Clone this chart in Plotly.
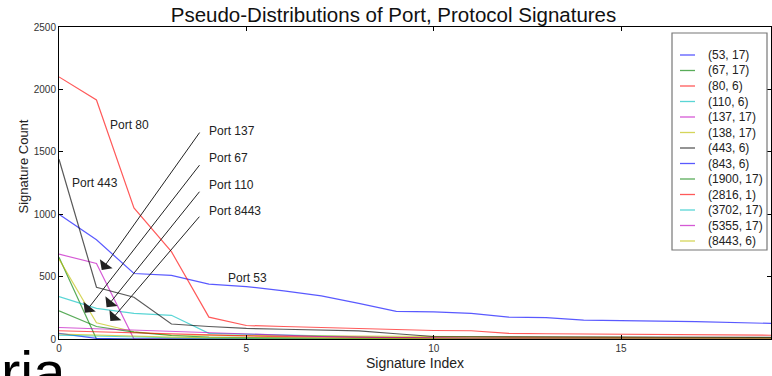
import plotly.graph_objects as go

# ---- data -------------------------------------------------------------
signature_index = list(range(20))

port_protocols = [
    "(53, 17)", "(67, 17)", "(80, 6)", "(110, 6)", "(137, 17)", "(138, 17)",
    "(443, 6)", "(843, 6)", "(1900, 17)", "(2816, 1)", "(3702, 17)",
    "(5355, 17)", "(8443, 6)",
]

counts_53_17 = [1000, 795, 525, 510, 440, 420, 385, 345, 285, 222,
                218, 205, 175, 172, 152, 150, 144, 139, 133, 125]
counts_67_17 = [655, 0, 0, 0, 0, 0, 0, 0, 0, 0,
                0, 0, 0, 0, 0, 0, 0, 0, 0, 0]
counts_80_6 = [2100, 1915, 1050, 700, 175, 108, 100, 92, 82, 74,
               68, 66, 45, 42, 40, 38, 36, 34, 32, 30]
counts_110_6 = [340, 245, 205, 190, 45, 40, 32, 25, 18, 10,
                8, 6, 5, 4, 4, 3, 3, 3, 2, 2]
counts_137_17 = [680, 605, 0, 0, 0, 0, 0, 0, 0, 0,
                 0, 0, 0, 0, 0, 0, 0, 0, 0, 0]
counts_138_17 = [640, 130, 58, 32, 30, 28, 26, 24, 22, 20,
                 18, 17, 16, 15, 14, 13, 12, 12, 11, 11]
counts_443_6 = [1440, 415, 335, 120, 100, 85, 78, 72, 65, 42,
                20, 18, 17, 16, 15, 15, 14, 14, 13, 13]
counts_843_6 = [45, 5, 0, 0, 0, 0, 0, 0, 0, 0,
                0, 0, 0, 0, 0, 0, 0, 0, 0, 0]
counts_1900_17 = [225, 100, 55, 28, 15, 10, 8, 6, 5, 4,
                  3, 3, 2, 2, 2, 2, 1, 1, 1, 1]
counts_2816_1 = [66, 57, 48, 40, 32, 25, 19, 15, 12, 10,
                 9, 8, 7, 6, 6, 5, 5, 4, 4, 4]
counts_3702_17 = [30, 22, 15, 10, 6, 4, 3, 2, 2, 1,
                  1, 1, 1, 0, 0, 0, 0, 0, 0, 0]
counts_5355_17 = [92, 82, 72, 62, 50, 38, 28, 20, 14, 9,
                  6, 4, 3, 2, 1, 1, 0, 0, 0, 0]
counts_8443_6 = [40, 30, 22, 15, 10, 8, 6, 5, 4, 3,
                 3, 2, 2, 2, 1, 1, 1, 1, 1, 1]

series_counts = [
    counts_53_17, counts_67_17, counts_80_6, counts_110_6, counts_137_17,
    counts_138_17, counts_443_6, counts_843_6, counts_1900_17, counts_2816_1,
    counts_3702_17, counts_5355_17, counts_8443_6,
]

# text labels: (label, x, y) in data units, left-aligned
port_labels = [
    ("Port 80", 1.31, 1712),
    ("Port 443", 0.29, 1252),
    ("Port 53", 4.46, 486),
    ("Port 137", 3.95, 1664),
    ("Port 67", 3.95, 1452),
    ("Port 110", 3.95, 1238),
    ("Port 8443", 3.95, 1026),
]

# arrows: (tail x, tail y, head x, head y) in data units
arrow_paths = [
    (3.78, 1666, 1.14, 552),
    (3.78, 1405, 0.69, 210),
    (3.78, 1192, 1.27, 255),
    (3.78, 992, 1.37, 144),
]

# ---- style ------------------------------------------------------------
cycle = [(0, 0, 255), (0, 128, 0), (255, 0, 0), (0, 191, 191),
         (191, 0, 191), (191, 191, 0), (0, 0, 0)]
ALPHA = 0.65
line_colors = ["rgba(%d,%d,%d,%.2f)" % (cycle[i % len(cycle)] + (ALPHA,))
               for i in range(len(port_protocols))]
FONT = "Liberation Sans, Arial, sans-serif"

W, H = 772, 376
PLOT_L, PLOT_R, PLOT_T, PLOT_B = 59, 771, 27, 339


def paper_x(px):
    return (px - PLOT_L) / (PLOT_R - PLOT_L)


def paper_y(py):
    return (PLOT_B - py) / (PLOT_B - PLOT_T)


fig = go.Figure()

for name, counts, color in zip(port_protocols, series_counts, line_colors):
    fig.add_trace(go.Scatter(
        x=signature_index, y=counts, name=name, mode="lines",
        line=dict(color=color, width=1.2),
        showlegend=False, hoverinfo="x+y+name",
    ))

annotations = []
for text, x, y in port_labels:
    annotations.append(dict(
        x=x, y=y, xref="x", yref="y", text=text, showarrow=False,
        xanchor="left", yanchor="middle",
        font=dict(family=FONT, size=12, color="#222"),
    ))

for tx, ty, hx, hy in arrow_paths:
    annotations.append(dict(
        x=hx, y=hy, ax=tx, ay=ty, xref="x", yref="y", axref="x", ayref="y",
        text="", showarrow=True, arrowhead=1, arrowsize=2.6, arrowwidth=1,
        arrowcolor="#222", standoff=0, startstandoff=0,
    ))

# legend box drawn with shapes and annotations
shapes = [dict(
    type="rect", xref="paper", yref="paper",
    x0=paper_x(672), x1=paper_x(767), y0=paper_y(250), y1=paper_y(33),
    line=dict(color="#777", width=1.2), fillcolor="white", layer="above",
)]
row_top, row_step = 55, 15.5
for k, (name, color) in enumerate(zip(port_protocols, line_colors)):
    ry = row_top + k * row_step
    shapes.append(dict(
        type="line", xref="paper", yref="paper",
        x0=paper_x(680), x1=paper_x(695), y0=paper_y(ry), y1=paper_y(ry),
        line=dict(color=color, width=1.3), layer="above",
    ))
    annotations.append(dict(
        x=paper_x(706), y=paper_y(ry), xref="paper", yref="paper",
        text=name, showarrow=False, xanchor="left", yanchor="middle",
        font=dict(family=FONT, size=12, color="#222"),
    ))

# y-axis title
annotations.append(dict(
    x=paper_x(22.5), y=paper_y(167), xref="paper", yref="paper",
    text="Signature Count", showarrow=False, textangle=-90,
    xanchor="center", yanchor="middle",
    font=dict(family=FONT, size=13, color="#222"),
))

# large partial word at the lower left edge
annotations.append(dict(
    x=paper_x(-1), y=paper_y(337), xref="paper", yref="paper",
    text="ria", showarrow=False, xanchor="left", yanchor="top",
    font=dict(family=FONT, size=58, color="#000"),
))

axis_common = dict(
    showline=True, linecolor="#000", linewidth=1, mirror="allticks",
    ticks="inside", ticklen=4, tickcolor="#000", showgrid=False, zeroline=False,
    tickfont=dict(family=FONT, size=10, color="#333"),
)

fig.update_layout(
    width=W, height=H,
    margin=dict(l=PLOT_L, r=W - PLOT_R, t=PLOT_T, b=H - PLOT_B),
    paper_bgcolor="white", plot_bgcolor="white",
    title=dict(
        text="Pseudo-Distributions of Port, Protocol Signatures",
        x=paper_x(393.5), xref="paper", xanchor="center",
        y=1 - 15 / H, yref="container", yanchor="middle",
        font=dict(family=FONT, size=20.5, color="#111"),
    ),
    xaxis=dict(
        range=[0, 19], tickvals=[0, 5, 10, 15],
        title=dict(text="Signature Index", standoff=5,
                   font=dict(family=FONT, size=14, color="#222")),
        **axis_common,
    ),
    yaxis=dict(
        range=[0, 2500], tickvals=[0, 500, 1000, 1500, 2000, 2500],
        **axis_common,
    ),
    annotations=annotations,
    shapes=shapes,
)

fig.write_html("out.html")
